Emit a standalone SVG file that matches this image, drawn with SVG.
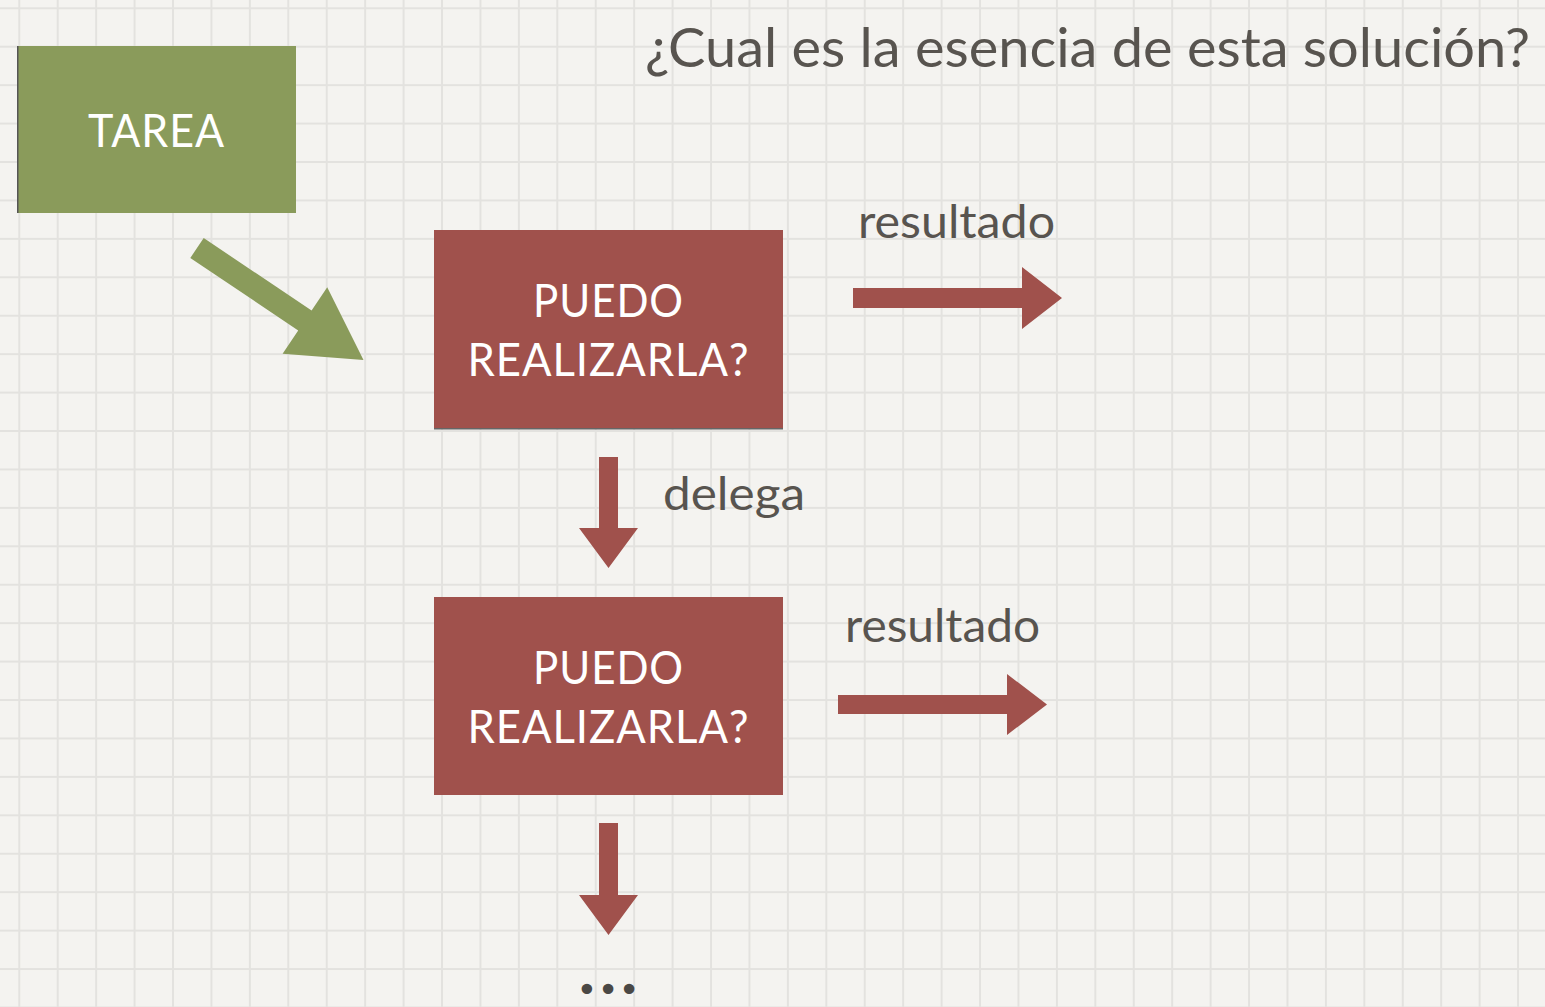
<svg xmlns="http://www.w3.org/2000/svg" width="1545" height="1007" viewBox="0 0 1545 1007">
  <defs>
    <pattern id="grid" patternUnits="userSpaceOnUse" x="18.3" y="7.3" width="38.43" height="38.43">
      <rect x="0" y="0" width="2" height="38.43" fill="#e3e2df"/>
      <rect x="0" y="0" width="38.43" height="2" fill="#e3e2df"/>
    </pattern>
    <style>
      .label { font-family: Lato, "Noto Sans", "Liberation Sans", sans-serif; fill: #58544f; }
      .boxtext { font-family: Lato, "Noto Sans", "Liberation Sans", sans-serif; fill: #ffffff; font-size: 46px; text-anchor: middle; letter-spacing: 1px; }
      .red { fill: #a0514c; }
      .green { fill: #8a9b5b; }
    </style>
  </defs>

  <rect x="0" y="0" width="1545" height="1007" fill="#f4f3f0"/>
  <rect x="0" y="0" width="1545" height="1007" fill="url(#grid)"/>

  <text id="title" class="label" x="645" y="67" font-size="55" textLength="885" lengthAdjust="spacingAndGlyphs">¿Cual es la esencia de esta solución?</text>

  <g id="tarea">
    <rect class="green" x="17" y="46" width="279" height="167"/>
    <rect x="17" y="46" width="1.5" height="167" fill="#555"/>
    <text class="boxtext" x="156.5" y="147" textLength="137" lengthAdjust="spacingAndGlyphs">TAREA</text>
  </g>

  <g id="puedo1">
    <rect class="red" x="434" y="230" width="349" height="199"/>
    <rect x="434" y="428" width="349" height="1.5" fill="#666"/>
    <text class="boxtext" x="608.5" y="317" textLength="151" lengthAdjust="spacingAndGlyphs">PUEDO</text>
    <text class="boxtext" x="608.5" y="376" textLength="282" lengthAdjust="spacingAndGlyphs">REALIZARLA?</text>
  </g>

  <g id="puedo2">
    <rect class="red" x="434" y="597" width="349" height="198"/>
    <text class="boxtext" x="608.5" y="684" textLength="151" lengthAdjust="spacingAndGlyphs">PUEDO</text>
    <text class="boxtext" x="608.5" y="743" textLength="282" lengthAdjust="spacingAndGlyphs">REALIZARLA?</text>
  </g>

  <g id="connectors">
    <polygon class="green" transform="translate(197,248) rotate(33.9)" points="0,-12 130,-12 130,-40 200.6,0 130,40 130,12 0,12"/>
    <polygon class="red" points="853,288 1022,288 1022,267 1062,298 1022,329 1022,308 853,308"/>
    <text class="label" x="858" y="238" font-size="46" textLength="197" lengthAdjust="spacingAndGlyphs">resultado</text>
    <polygon class="red" points="599,457 618,457 618,528 638,528 608.5,568 579,528 599,528"/>
    <text class="label" x="663" y="510" font-size="46" textLength="142" lengthAdjust="spacingAndGlyphs">delega</text>
    <polygon class="red" points="838,695 1007,695 1007,674 1047,704.5 1007,735 1007,714 838,714"/>
    <text class="label" x="845" y="642" font-size="46" textLength="195" lengthAdjust="spacingAndGlyphs">resultado</text>
    <polygon class="red" points="599,823 618,823 618,895 638,895 608.5,935 579,895 599,895"/>
  </g>

  <text id="ellipsis" x="608" y="1002" font-family="'DejaVu Sans', sans-serif" font-size="36" fill="#4a4845" text-anchor="middle">•••</text>
</svg>
